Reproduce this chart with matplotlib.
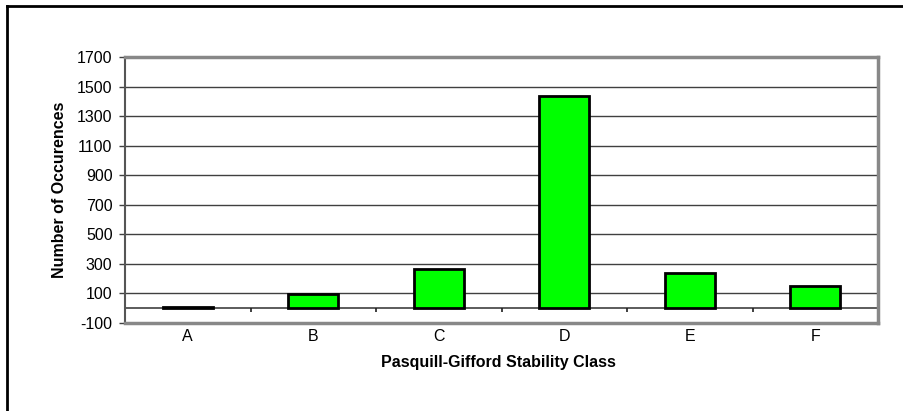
import numpy as np
import matplotlib.pyplot as plt
from matplotlib.lines import Line2D

plt.rcParams['font.family'] = ['Liberation Sans', 'DejaVu Sans']

# stability class counts
classes = ['A', 'B', 'C', 'D', 'E', 'F']
counts = [6, 95, 268, 1437, 240, 152]
yticks = list(range(-100, 1701, 200))

fig = plt.figure(figsize=(9.04, 4.11), dpi=100)
ax = fig.add_axes([0.1383, 0.2141, 0.8330, 0.6472])

x = np.arange(len(classes))
ax.bar(x, counts, width=0.4, color='#00ff00', edgecolor='black', linewidth=2, zorder=3)

ax.set_xlim(-0.5, len(classes) - 0.5)
ax.set_ylim(-100, 1700)
ax.set_yticks(yticks)
ax.set_yticklabels([str(t) for t in yticks], fontsize=11.5)
ax.set_xticks(x)
ax.set_xticklabels(classes, fontsize=11.5)
ax.tick_params(axis='x', length=0, pad=4)
ax.tick_params(axis='y', length=4, width=1, color='#404040', pad=5)

# horizontal gridlines
for t in yticks[1:-1]:
    ax.axhline(t, color='#404040', linewidth=1, zorder=1)

# category axis along zero with tick marks between classes
ax.axhline(0, color='#404040', linewidth=1.2, zorder=2)
bounds = np.arange(len(classes) + 1) - 0.5
ax.vlines(bounds, -28, 0, color='#202020', linewidth=1.2, zorder=2)

for side in ['top', 'right', 'bottom']:
    ax.spines[side].set_color('#888888')
    ax.spines[side].set_linewidth(2.5)
ax.spines['left'].set_color('#555555')
ax.spines['left'].set_linewidth(1.5)

ax.set_xlabel('Pasquill-Gifford Stability Class', fontsize=11.5, fontweight='bold')
ax.set_ylabel('Number of Occurences', fontsize=11.5, fontweight='bold')
ax.xaxis.set_label_coords(0.4957, -0.121)
ax.yaxis.set_label_coords(-0.077, 0.5)

# outer chart frame
fig.add_artist(Line2D([7 / 904, 1], [1 - 6 / 411, 1 - 6 / 411], color='black', linewidth=2))
fig.add_artist(Line2D([7 / 904, 7 / 904], [0, 1 - 6 / 411], color='black', linewidth=2))

fig.savefig('out.png', dpi=100)
